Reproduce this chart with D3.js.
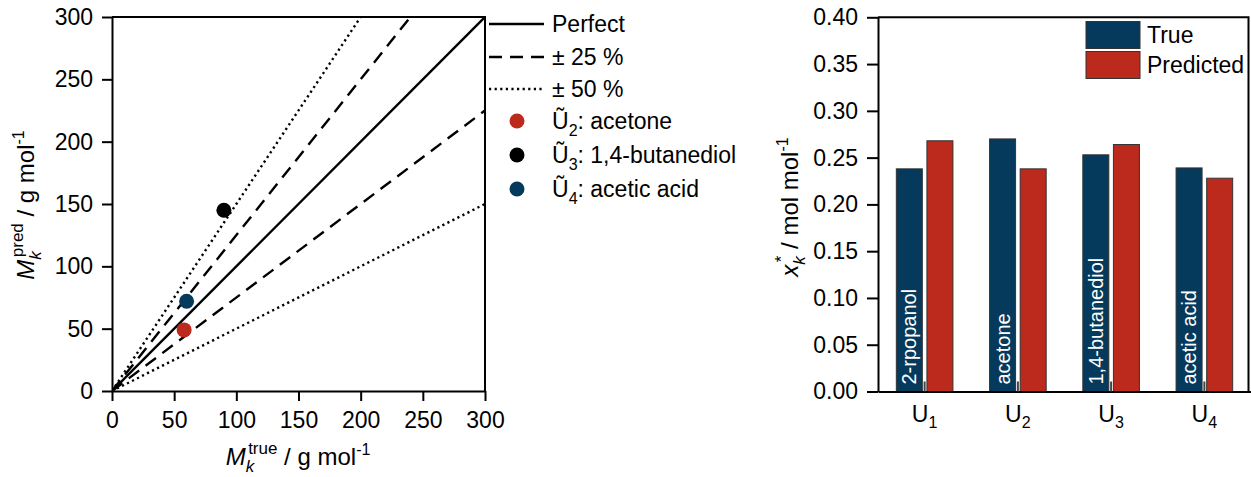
<html>
<head>
<meta charset="utf-8">
<title>Molar mass and composition</title>
<style>
  body { margin: 0; background: #fff; }
  svg text { font-family: "Liberation Sans", Arial, sans-serif; fill: #000; }
</style>
</head>
<body>
<svg id="chart" width="1251" height="477"></svg>
<script src="https://d3js.org/d3.v7.min.js"></script>
<script>
// left panel: parity plot of molar masses
var massTicks = [0, 50, 100, 150, 200, 250, 300];
var parityLines = [
  { name: "Perfect", factor: 1.0, dash: null },
  { name: "± 25 %", factor: 1.25, dash: "13,8" },
  { name: "± 25 %", factor: 0.75, dash: "13,8" },
  { name: "± 50 %", factor: 1.5, dash: "2.2,3.4" },
  { name: "± 50 %", factor: 0.5, dash: "2.2,3.4" }
];
var pointNames = ["acetone", "1,4-butanediol", "acetic acid"];
var pointSubs = ["2", "3", "4"];
var pointTrue = [58, 90, 60];
var pointPred = [49, 145, 72];
var pointColors = ["#bb2a1d", "#000000", "#063a5c"];

// right panel: bar chart of mole fractions
var components = ["U1", "U2", "U3", "U4"];
var componentSubs = ["1", "2", "3", "4"];
var componentNames = ["2-rpopanol", "acetone", "1,4-butanediol", "acetic acid"];
var xTrue = [0.238, 0.270, 0.253, 0.239];
var xPred = [0.268, 0.238, 0.264, 0.228];
var fracTicks = [0, 0.05, 0.10, 0.15, 0.20, 0.25, 0.30, 0.35, 0.40];

var blue = "#063a5c", red = "#bb2a1d";
var svg = d3.select("#chart");
var fs = 23;

// axis title with sub- and superscript stacked after the symbol
function axisTitle(sel, sym, sup, unit) {
  sel.attr("text-anchor", "middle").attr("font-size", 24);
  sel.append("tspan").attr("font-style", "italic").text(sym);
  sel.append("tspan").attr("font-style", "italic").attr("font-size", 17).attr("dy", 7).text("k");
  sel.append("tspan").attr("font-size", 17).attr("dx", -6).attr("dy", -18).text(sup);
  sel.append("tspan").attr("dy", 11).text(" / " + unit);
  sel.append("tspan").attr("font-size", 16).attr("dy", -10).text("-1");
}

// ---------- left panel ----------
var x1 = d3.scaleLinear().domain([0, 300]).range([112, 485]);
var y1 = d3.scaleLinear().domain([0, 300]).range([391, 17]);

var left = svg.append("g");

svg.append("clipPath").attr("id", "clipL")
  .append("rect").attr("x", x1(0)).attr("y", y1(300))
  .attr("width", x1(300) - x1(0)).attr("height", y1(0) - y1(300));

left.append("g").attr("clip-path", "url(#clipL)")
  .selectAll("line").data(parityLines).enter().append("line")
  .attr("x1", x1(0)).attr("y1", y1(0))
  .attr("x2", function(d) { return x1(Math.min(300, 300 / d.factor)); })
  .attr("y2", function(d) { return y1(Math.min(300, 300 * d.factor)); })
  .attr("stroke", "#000").attr("stroke-width", 2.4)
  .attr("stroke-dasharray", function(d) { return d.dash; });

left.selectAll("circle.pt").data(pointTrue).enter().append("circle")
  .attr("class", "pt")
  .attr("cx", function(d) { return x1(d); })
  .attr("cy", function(d, i) { return y1(pointPred[i]); })
  .attr("r", 7.5)
  .attr("fill", function(d, i) { return pointColors[i]; });

var axL = left.append("g").attr("transform", "translate(" + x1(0) + ",0)")
  .call(d3.axisLeft(y1).tickValues(massTicks).tickSize(10).tickSizeOuter(0).tickPadding(9));
var axB = left.append("g").attr("transform", "translate(0," + y1(0) + ")")
  .call(d3.axisBottom(x1).tickValues(massTicks).tickSize(10).tickSizeOuter(0).tickPadding(11));
[axL, axB].forEach(function(a) {
  a.selectAll("path, line").attr("stroke", "#000").attr("stroke-width", 2);
  a.selectAll("text").attr("font-size", fs).attr("font-family", "Liberation Sans, Arial, sans-serif").attr("fill", "#000");
});
left.append("path")
  .attr("d", "M" + x1(0) + "," + y1(300) + "H" + x1(300) + "V" + y1(0))
  .attr("fill", "none").attr("stroke", "#000").attr("stroke-width", 2);

axisTitle(left.append("text").attr("x", 298).attr("y", 465), "M", "true", "g mol");
axisTitle(left.append("text").attr("transform", "translate(34,205) rotate(-90)"), "M", "pred", "g mol");

// legend
var legLines = [parityLines[0], parityLines[1], parityLines[3]];
var legY = [24, 57, 89];
var leg = svg.append("g");
legLines.forEach(function(d, i) {
  leg.append("line").attr("x1", 489).attr("x2", 544)
    .attr("y1", legY[i]).attr("y2", legY[i])
    .attr("stroke", "#000").attr("stroke-width", 2.4)
    .attr("stroke-dasharray", d.dash);
  leg.append("text").attr("x", 552).attr("y", legY[i]).attr("dy", "0.35em")
    .attr("font-size", fs).text(d.name);
});
var ptLegY = [121, 155, 189];
pointNames.forEach(function(n, i) {
  leg.append("circle").attr("cx", 517).attr("cy", ptLegY[i]).attr("r", 7.5)
    .attr("fill", pointColors[i]);
  var t = leg.append("text").attr("x", 552).attr("y", ptLegY[i]).attr("dy", "0.35em")
    .attr("font-size", fs);
  t.append("tspan").text("Ũ");
  t.append("tspan").attr("font-size", 16).attr("dy", 7).text(pointSubs[i]);
  t.append("tspan").attr("dy", -7).text(": " + n);
});

// ---------- right panel ----------
var x2 = d3.scaleBand().domain(components).range([878, 1251]).padding(0);
var y2 = d3.scaleLinear().domain([0, 0.4]).range([391.5, 17.3]);
var barW = 26, gap = 4.6;
var right = svg.append("g");

function cx(i) { return x2(components[i]) + x2.bandwidth() / 2; }

right.selectAll("rect.t").data(xTrue).enter().append("rect")
  .attr("class", "t")
  .attr("x", function(d, i) { return cx(i) - gap / 2 - barW; })
  .attr("y", function(d) { return y2(d); })
  .attr("width", barW)
  .attr("height", function(d) { return y2(0) - y2(d); })
  .attr("fill", blue).attr("stroke", "#333").attr("stroke-width", 1);

right.selectAll("rect.p").data(xPred).enter().append("rect")
  .attr("class", "p")
  .attr("x", function(d, i) { return cx(i) + gap / 2; })
  .attr("y", function(d) { return y2(d); })
  .attr("width", barW)
  .attr("height", function(d) { return y2(0) - y2(d); })
  .attr("fill", red).attr("stroke", "#333").attr("stroke-width", 1);

right.selectAll("text.lbl").data(componentNames).enter().append("text")
  .attr("class", "lbl")
  .attr("transform", function(d, i) {
    return "translate(" + (cx(i) - gap / 2 - barW / 2) + "," + (y2(0) - 7) + ") rotate(-90)";
  })
  .attr("dy", "0.35em").attr("font-size", 20)
  .style("fill", "#fff")
  .text(function(d) { return d; });

var axR = right.append("g").attr("transform", "translate(878,0)")
  .call(d3.axisLeft(y2).tickValues(fracTicks).tickFormat(d3.format(".2f"))
    .tickSize(11).tickSizeOuter(0).tickPadding(9));
axR.selectAll("path, line").attr("stroke", "#000").attr("stroke-width", 2);
axR.selectAll("text").attr("font-size", fs).attr("font-family", "Liberation Sans, Arial, sans-serif").attr("fill", "#000");

var axRB = right.append("g").attr("transform", "translate(0," + y2(0) + ")")
  .call(d3.axisBottom(x2).tickSize(-10).tickSizeOuter(0).tickPadding(14));
axRB.select("path").attr("stroke", "#000").attr("stroke-width", 2);
axRB.selectAll("line").attr("stroke", "#444").attr("stroke-width", 2);
axRB.selectAll("text").attr("font-size", fs).attr("font-family", "Liberation Sans, Arial, sans-serif").attr("fill", "#000")
  .text(null)
  .each(function(d, i) {
    var t = d3.select(this);
    t.append("tspan").text("U");
    t.append("tspan").attr("font-size", 16).attr("dy", 6).text(componentSubs[i]);
  });

right.append("path")
  .attr("d", "M878," + y2(0.4) + "H1248.5V" + y2(0))
  .attr("fill", "none").attr("stroke", "#000").attr("stroke-width", 2);

axisTitle(right.append("text").attr("transform", "translate(798,207) rotate(-90)"), "x", "*", "mol mol");

// bar legend
var barLeg = [{ name: "True", color: blue, y: 21.5 }, { name: "Predicted", color: red, y: 51.5 }];
barLeg.forEach(function(d) {
  right.append("rect").attr("x", 1086).attr("y", d.y).attr("width", 54).attr("height", 27)
    .attr("fill", d.color).attr("stroke", "#333").attr("stroke-width", 1);
  right.append("text").attr("x", 1147).attr("y", d.y + 13.5).attr("dy", "0.35em")
    .attr("font-size", fs).text(d.name);
});
</script>
</body>
</html>
